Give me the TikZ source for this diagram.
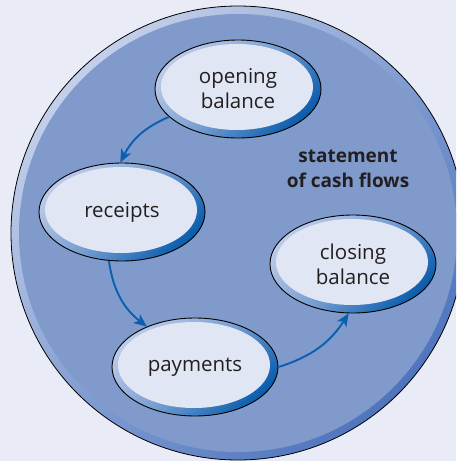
\documentclass[tikz,border=0pt]{standalone}
\usepackage{fontspec}
\setmainfont{Open Sans}
\usetikzlibrary{arrows.meta,shapes.geometric}
\definecolor{bgc}{HTML}{E9EBF6}
\definecolor{discc}{HTML}{7F9ACB}
\definecolor{ringlight}{HTML}{C4D0EA}
\definecolor{ringdark}{HTML}{4F75BE}
\definecolor{elfill}{HTML}{E1E6F4}
\definecolor{rimlight}{HTML}{BCC9E8}
\definecolor{rimdark}{HTML}{0B5DAD}
\definecolor{arrc}{HTML}{0C5FAE}
\definecolor{txt}{HTML}{231F20}
\tikzset{
  bubble/.style={ellipse, draw=black, line width=0.9pt,
    minimum width=166pt, minimum height=98pt, inner sep=0pt,
    top color=rimlight, bottom color=rimdark, middle color=rimlight!60!rimdark, shading angle=45,
    align=center, text=txt, font=\fontsize{20.5}{25}\selectfont,
    path picture={\fill[elfill] ([xshift=-1pt,yshift=2pt]path picture bounding box.center) ellipse (76pt and 43pt);}},
  flow/.style={draw=arrc, line width=1.9pt, -{Stealth[length=13pt,width=11pt,inset=3.5pt]}}
}
\begin{document}
\begin{tikzpicture}[x=1pt,y=-1pt]
\useasboundingbox (0,0) rectangle (456,461);
\fill[bgc] (0,0) rectangle (456,461);
\begin{scope}
\clip (0,0) rectangle (456,461);
\shade[top color=ringlight, bottom color=ringdark, middle color=ringlight!45!ringdark, shading angle=45] (238,233) circle (227);
\fill[discc] (238,233) circle (219);
\draw[black, line width=0.8pt] (238,233) circle (227);
\end{scope}
\node[bubble] (open) at (238,89) {opening\\balance};
\node[bubble] (rec) at (122,212) {receipts};
\node[bubble] (close) at (353,264) {closing\\balance};
\node[bubble] (pay) at (195,367) {payments};
\node[font=\bfseries\fontsize{19}{25}\selectfont, text=txt, align=center] (title) at (348,169) {statement\\of cash flows};
\draw[flow] (open.202) to[bend right=20] (rec.92);
\draw[flow] (rec.255) to[bend right=22] (pay.140);
\draw[flow] (pay.0) to[bend right=20] (close.265);
\end{tikzpicture}
\end{document}
